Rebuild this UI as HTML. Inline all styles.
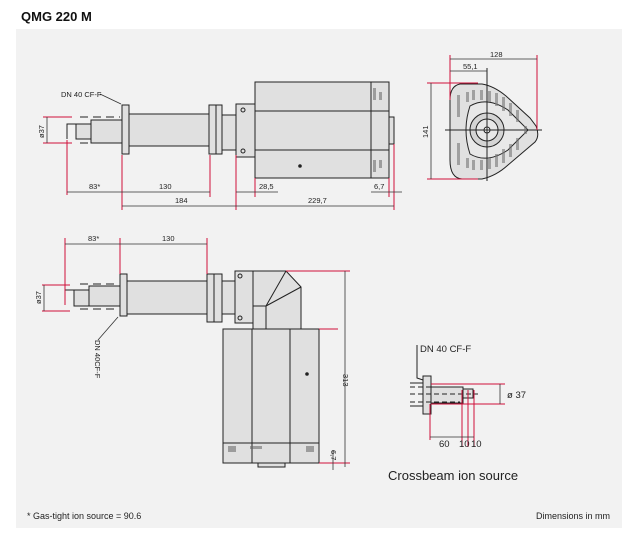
<!DOCTYPE html>
<html><head><meta charset="utf-8"><style>
body{margin:0;background:#fff;width:633px;height:536px;overflow:hidden;font-family:"Liberation Sans",sans-serif}
svg{position:absolute;left:0;top:0}
</style></head><body>
<svg width="633" height="536" viewBox="0 0 633 536" font-family="Liberation Sans, sans-serif">
<rect x="16" y="29" width="606" height="499" fill="#f2f2f2"/>
<text x="21" y="21" font-size="13" font-weight="bold" fill="#111">QMG 220 M</text>
<g stroke="#222" stroke-width="1" fill="#e0e0e0">
<!-- top view -->
<rect x="76" y="124" width="15" height="15"/>
<rect x="91" y="120" width="31" height="23"/>
<rect x="122" y="105" width="7" height="49"/>
<rect x="129" y="114" width="81" height="32"/>
<rect x="209" y="105" width="7" height="49"/>
<rect x="216" y="105" width="6" height="49"/>
<rect x="222" y="115" width="14" height="35"/>
<rect x="236" y="104" width="19" height="53"/>
<rect x="255" y="82" width="134" height="96"/>
<line x1="371" y1="82" x2="371" y2="178"/>
<line x1="255" y1="111" x2="389" y2="111"/><line x1="255" y1="150" x2="389" y2="150"/>
<rect x="389" y="117" width="5" height="27"/>
<polyline points="67,139 67,124 76,124" fill="none"/>
<line x1="80" y1="117" x2="120" y2="117" stroke-dasharray="8,5"/>
<line x1="80" y1="143" x2="120" y2="143" stroke-dasharray="8,5"/>
<circle cx="243" cy="110" r="2" fill="none"/><circle cx="243" cy="151" r="2" fill="none"/>
<circle cx="300" cy="166" r="1.3" fill="#222"/>
<!-- bottom view -->
<rect x="74" y="290" width="15" height="16"/>
<rect x="89" y="286" width="31" height="20"/>
<rect x="120" y="274" width="7" height="42"/>
<rect x="127" y="281" width="80" height="33"/>
<rect x="207" y="274" width="7" height="48"/>
<rect x="214" y="274" width="8" height="48"/>
<rect x="222" y="281" width="13" height="33"/>
<rect x="235" y="271" width="18" height="52"/>
<polygon points="253,271 286,271 301,287 301,329 253,329"/>
<polyline points="253,306 266,306 266,329" fill="none"/>
<line x1="266" y1="306" x2="286" y2="271"/><line x1="266" y1="306" x2="301" y2="287"/>
<rect x="223" y="329" width="96" height="134"/>
<line x1="252" y1="329" x2="252" y2="463"/><line x1="290" y1="329" x2="290" y2="463"/>
<line x1="223" y1="443" x2="319" y2="443"/>
<rect x="258" y="463" width="27" height="4"/>
<polyline points="65,305 65,290 74,290" fill="none"/>
<line x1="80" y1="284" x2="118" y2="284" stroke-dasharray="8,5"/>
<line x1="80" y1="309" x2="118" y2="309" stroke-dasharray="8,5"/>
<circle cx="240" cy="276" r="2" fill="none"/><circle cx="240" cy="318" r="2" fill="none"/>
<circle cx="307" cy="374" r="1.3" fill="#222"/>
<!-- end view -->
<path d="M460,84 Q450,86 450,100 L450,160 Q450,178 462,179 L482,179 Q496,176 508,165 L535,142 Q540,136 536,126 L530,118 L506,96 Q494,86 482,84 Z"/>
<path d="M470,106 Q487,96 508,110 L528,130 L508,150 Q487,164 470,154 Q462,130 470,106 Z" fill="#e8e8e8"/>
<circle cx="487" cy="130" r="17" fill="#d4d4d4"/>
<circle cx="487" cy="130" r="11" fill="#e8e8e8"/>
<circle cx="487" cy="130" r="3" fill="#fff"/>
<line x1="445" y1="130" x2="542" y2="130"/><line x1="487" y1="68" x2="487" y2="181"/>
<!-- crossbeam -->
<rect x="423" y="376" width="8" height="38"/>
<rect x="431" y="387" width="32" height="16"/>
<rect x="463" y="389" width="10" height="9"/>
<line x1="410" y1="383" x2="423" y2="383"/><line x1="410" y1="406" x2="423" y2="406"/>
<line x1="410" y1="387" x2="460" y2="387" stroke-dasharray="5,3"/>
<line x1="410" y1="394" x2="478" y2="394" stroke-dasharray="5,3"/>
<line x1="410" y1="402" x2="460" y2="402" stroke-dasharray="5,3"/>
<polyline points="417,345 417,378 423,380" fill="none"/>
</g>
<g fill="#666" opacity=".55">
<rect x="373" y="88" width="3" height="12"/><rect x="373" y="160" width="3" height="12"/>
<rect x="379" y="92" width="3" height="8"/><rect x="379" y="160" width="3" height="8"/>
<rect x="228" y="446" width="8" height="6"/><rect x="306" y="446" width="8" height="6"/>
<rect x="250" y="446" width="12" height="3"/>
</g>
<g fill="#777" opacity=".6">
<rect x="457" y="95" width="3" height="22"/><rect x="457" y="143" width="3" height="22"/>
<rect x="466" y="92" width="3" height="10"/><rect x="472" y="90" width="3" height="10"/>
<rect x="480" y="90" width="3" height="10"/><rect x="488" y="91" width="3" height="11"/>
<rect x="495" y="93" width="3" height="13"/><rect x="502" y="97" width="3" height="14"/>
<rect x="509" y="103" width="3" height="13"/><rect x="516" y="110" width="3" height="12"/>
<rect x="466" y="158" width="3" height="10"/><rect x="472" y="160" width="3" height="10"/>
<rect x="480" y="160" width="3" height="10"/><rect x="488" y="158" width="3" height="11"/>
<rect x="495" y="154" width="3" height="13"/><rect x="502" y="149" width="3" height="14"/>
<rect x="509" y="144" width="3" height="13"/><rect x="516" y="138" width="3" height="12"/>
<rect x="524" y="126" width="3" height="8"/>
</g>
<!-- red ext lines -->
<g stroke="#d0103a" stroke-width="1">
<line x1="43" y1="117" x2="72" y2="117"/><line x1="43" y1="143" x2="72" y2="143"/>
<line x1="67" y1="140" x2="67" y2="195"/><line x1="122" y1="155" x2="122" y2="210"/>
<line x1="210" y1="155" x2="210" y2="197"/><line x1="236" y1="155" x2="236" y2="210"/>
<line x1="255" y1="178" x2="255" y2="197"/><line x1="389" y1="178" x2="389" y2="197"/>
<line x1="394" y1="144" x2="394" y2="210"/>
<line x1="42" y1="285" x2="70" y2="285"/><line x1="42" y1="311" x2="70" y2="311"/>
<line x1="65" y1="238" x2="65" y2="305"/><line x1="120" y1="238" x2="120" y2="274"/>
<line x1="207" y1="238" x2="207" y2="274"/>
<line x1="286" y1="271" x2="350" y2="271"/><line x1="319" y1="329" x2="338" y2="329"/>
<line x1="319" y1="463" x2="350" y2="463"/>
<line x1="450" y1="55" x2="450" y2="100"/><line x1="537" y1="55" x2="537" y2="130"/>
<line x1="427" y1="83" x2="478" y2="83"/><line x1="427" y1="179" x2="478" y2="179"/>
<line x1="431" y1="384" x2="505" y2="384"/><line x1="431" y1="404" x2="505" y2="404"/>
<line x1="430" y1="404" x2="430" y2="440"/><line x1="462" y1="390" x2="462" y2="447"/>
<line x1="468" y1="390" x2="468" y2="447"/><line x1="474" y1="390" x2="474" y2="447"/>
</g>
<!-- dim lines -->
<g stroke="#333" stroke-width="0.8">
<line x1="47" y1="117" x2="47" y2="143"/>
<line x1="67" y1="192" x2="210" y2="192"/><line x1="236" y1="192" x2="278" y2="192"/>
<line x1="371" y1="192" x2="402" y2="192"/>
<line x1="122" y1="206" x2="394" y2="206"/>
<line x1="65" y1="244" x2="207" y2="244"/><line x1="44" y1="285" x2="44" y2="311"/>
<line x1="345" y1="271" x2="345" y2="467"/><line x1="333" y1="450" x2="333" y2="470"/>
<line x1="450" y1="59" x2="537" y2="59"/><line x1="450" y1="71" x2="487" y2="71"/>
<line x1="431" y1="83" x2="431" y2="179"/>
<line x1="500" y1="384" x2="500" y2="404"/>
<line x1="430" y1="437" x2="474" y2="437"/>
<line x1="98" y1="340" x2="118" y2="317"/>
<line x1="100" y1="94" x2="121" y2="104"/>
</g>
<g font-size="7.5" fill="#222">
<text x="89" y="189">83*</text><text x="159" y="189">130</text><text x="259" y="189">28,5</text>
<text x="374" y="189">6,7</text><text x="175" y="203">184</text><text x="308" y="203">229,7</text>
<text x="61" y="97">DN 40 CF-F</text>
<text transform="translate(44,138) rotate(-90)">ø37</text>
<text x="88" y="241">83*</text><text x="162" y="241">130</text>
<text transform="translate(41,304) rotate(-90)">ø37</text>
<text transform="translate(95,340) rotate(90)">DN 40CF-F</text>
<text transform="translate(343,374) rotate(90)">313</text>
<text transform="translate(331,450) rotate(90)">6,7</text>
<text x="490" y="57">128</text><text x="463" y="69">55,1</text>
<text transform="translate(428,138) rotate(-90)">141</text>
</g>
<g font-size="9.5" fill="#222">
<text x="420" y="352">DN 40 CF-F</text><text x="507" y="398">ø 37</text>
<text x="439" y="447">60</text><text x="459" y="447">10</text><text x="471" y="447">10</text>
</g>
<text x="388" y="480" font-size="13" fill="#222">Crossbeam ion source</text>
<text x="536" y="519" font-size="9" fill="#222">Dimensions in mm</text>
<text x="27" y="519" font-size="9" fill="#222">* Gas-tight ion source = 90.6</text>
</svg>
</body></html>
